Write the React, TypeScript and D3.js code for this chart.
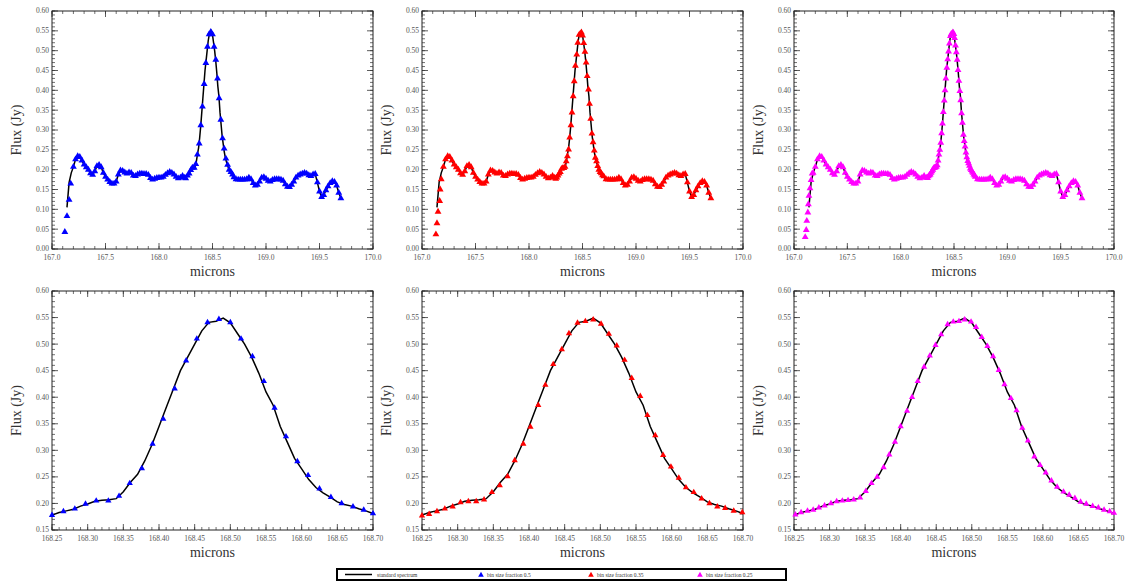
import React from "react";
import * as d3 from "d3";

// ---------- tick values ----------
const overviewXTicks = [167.0, 167.5, 168.0, 168.5, 169.0, 169.5, 170.0];
const overviewYTicks = [0, 0.05, 0.1, 0.15, 0.2, 0.25, 0.3, 0.35, 0.4, 0.45, 0.5, 0.55, 0.6];
const zoomXTicks = [168.25, 168.3, 168.35, 168.4, 168.45, 168.5, 168.55, 168.6, 168.65, 168.7];
const zoomYTicks = [0.15, 0.2, 0.25, 0.3, 0.35, 0.4, 0.45, 0.5, 0.55, 0.6];

// ---------- standard spectrum (microns, Jy) ----------
const spectrum: [number, number][] = [
  [167.14, 0.105], [167.16, 0.168], [167.18, 0.192], [167.2, 0.207], [167.22, 0.226],
  [167.24, 0.234], [167.26, 0.232], [167.28, 0.223], [167.3, 0.213], [167.32, 0.206],
  [167.34, 0.2], [167.36, 0.191], [167.38, 0.187], [167.4, 0.196], [167.42, 0.209],
  [167.44, 0.212], [167.46, 0.206], [167.48, 0.192], [167.5, 0.182], [167.52, 0.175],
  [167.54, 0.169], [167.56, 0.165], [167.58, 0.165], [167.6, 0.17], [167.62, 0.188],
  [167.64, 0.198], [167.66, 0.197], [167.68, 0.193], [167.7, 0.19], [167.72, 0.193],
  [167.74, 0.192], [167.76, 0.185], [167.78, 0.184], [167.8, 0.188], [167.82, 0.19],
  [167.84, 0.19], [167.86, 0.189], [167.88, 0.189], [167.9, 0.187], [167.92, 0.179],
  [167.94, 0.175], [167.96, 0.177], [167.98, 0.179], [168.0, 0.18], [168.02, 0.18],
  [168.04, 0.182], [168.06, 0.187], [168.08, 0.191], [168.1, 0.194], [168.12, 0.192],
  [168.14, 0.188], [168.16, 0.182], [168.18, 0.178], [168.2, 0.18], [168.22, 0.184],
  [168.24, 0.18],
  [168.25, 0.178], [168.26, 0.183], [168.27, 0.186], [168.28, 0.189], [168.29, 0.195],
  [168.3, 0.199], [168.31, 0.204], [168.32, 0.206], [168.33, 0.207], [168.34, 0.209],
  [168.35, 0.222], [168.36, 0.24], [168.37, 0.255], [168.38, 0.28], [168.39, 0.31],
  [168.4, 0.345], [168.41, 0.38], [168.42, 0.415], [168.43, 0.45], [168.44, 0.475],
  [168.45, 0.5], [168.46, 0.525], [168.47, 0.541], [168.48, 0.543], [168.49, 0.549],
  [168.5, 0.54], [168.51, 0.52], [168.52, 0.5], [168.53, 0.475], [168.54, 0.445],
  [168.55, 0.41], [168.56, 0.385], [168.57, 0.345], [168.58, 0.315], [168.59, 0.285],
  [168.6, 0.265], [168.61, 0.245], [168.62, 0.23], [168.63, 0.22], [168.64, 0.212],
  [168.65, 0.203], [168.66, 0.198], [168.67, 0.195], [168.68, 0.19], [168.69, 0.186],
  [168.7, 0.181],
  [168.72, 0.176], [168.74, 0.175], [168.76, 0.175], [168.78, 0.175], [168.8, 0.175],
  [168.82, 0.176], [168.84, 0.18], [168.86, 0.176], [168.88, 0.166], [168.9, 0.16],
  [168.92, 0.162], [168.94, 0.17], [168.96, 0.18], [168.98, 0.181], [169.0, 0.177],
  [169.02, 0.172], [169.04, 0.17], [169.06, 0.174], [169.08, 0.176], [169.1, 0.176],
  [169.12, 0.176], [169.14, 0.175], [169.16, 0.172], [169.18, 0.163], [169.2, 0.157],
  [169.22, 0.156], [169.24, 0.162], [169.26, 0.17], [169.28, 0.18], [169.3, 0.185],
  [169.32, 0.188], [169.34, 0.19], [169.36, 0.192], [169.38, 0.19], [169.4, 0.186],
  [169.42, 0.184], [169.44, 0.188], [169.46, 0.189], [169.48, 0.168], [169.5, 0.145],
  [169.52, 0.131], [169.54, 0.136], [169.56, 0.148], [169.58, 0.158], [169.6, 0.166],
  [169.62, 0.171], [169.64, 0.169], [169.66, 0.16], [169.68, 0.142], [169.7, 0.128],
];

// ---------- binned spectra: short-wavelength edge ----------
const blueEdge: [number, number][] = [
  [167.12, 0.043], [167.14, 0.083], [167.16, 0.124], [167.175, 0.165],
];
const redEdge: [number, number][] = [
  [167.13, 0.037], [167.14, 0.065], [167.15, 0.094], [167.165, 0.121], [167.17, 0.15], [167.18, 0.176],
];
const magentaEdge: [number, number][] = [
  [167.105, 0.03], [167.115, 0.048], [167.12, 0.071], [167.13, 0.092], [167.135, 0.113],
  [167.14, 0.134], [167.15, 0.153], [167.16, 0.174], [167.17, 0.19],
];

// ---------- binned spectra around the line (168.25 - 168.70) ----------
const blueLine: [number, number][] = [
  [168.25, 0.178], [168.266, 0.185], [168.282, 0.19], [168.297, 0.199], [168.312, 0.205],
  [168.329, 0.205], [168.344, 0.214], [168.359, 0.238], [168.376, 0.266], [168.391, 0.312],
  [168.406, 0.359], [168.422, 0.416], [168.438, 0.469], [168.453, 0.51], [168.468, 0.541],
  [168.484, 0.547], [168.5, 0.541], [168.515, 0.51], [168.531, 0.477], [168.547, 0.43],
  [168.562, 0.38], [168.578, 0.326], [168.594, 0.279], [168.609, 0.253], [168.625, 0.228],
  [168.641, 0.212], [168.656, 0.2], [168.672, 0.194], [168.687, 0.188], [168.7, 0.181],
];
const redLine: [number, number][] = [
  [168.25, 0.177], [168.26, 0.18], [168.271, 0.185], [168.282, 0.19], [168.293, 0.194],
  [168.304, 0.202], [168.315, 0.204], [168.326, 0.204], [168.337, 0.207], [168.348, 0.221],
  [168.359, 0.234], [168.37, 0.251], [168.38, 0.281], [168.392, 0.312], [168.402, 0.344],
  [168.413, 0.385], [168.423, 0.423], [168.434, 0.462], [168.446, 0.49], [168.456, 0.52],
  [168.468, 0.54], [168.479, 0.543], [168.49, 0.546], [168.501, 0.538], [168.512, 0.519],
  [168.523, 0.497], [168.534, 0.47], [168.544, 0.436], [168.556, 0.402], [168.566, 0.366],
  [168.577, 0.328], [168.588, 0.291], [168.599, 0.269], [168.61, 0.248], [168.62, 0.23],
  [168.631, 0.221], [168.642, 0.209], [168.653, 0.2], [168.664, 0.194], [168.675, 0.191],
  [168.687, 0.186], [168.699, 0.183],
];
const magentaLine: [number, number][] = [
  [168.252, 0.179], [168.26, 0.183], [168.269, 0.186], [168.277, 0.188], [168.285, 0.192],
  [168.293, 0.196], [168.302, 0.2], [168.31, 0.204], [168.318, 0.205], [168.326, 0.206],
  [168.334, 0.207], [168.343, 0.211], [168.351, 0.223], [168.359, 0.238], [168.367, 0.25],
  [168.376, 0.268], [168.384, 0.292], [168.392, 0.316], [168.4, 0.345], [168.409, 0.374],
  [168.416, 0.4], [168.424, 0.43], [168.433, 0.457], [168.441, 0.478], [168.449, 0.498],
  [168.457, 0.518], [168.466, 0.537], [168.474, 0.542], [168.482, 0.543], [168.49, 0.546],
  [168.499, 0.542], [168.506, 0.532], [168.514, 0.513], [168.522, 0.496], [168.53, 0.477],
  [168.538, 0.451], [168.546, 0.424], [168.555, 0.398], [168.563, 0.375], [168.571, 0.342],
  [168.579, 0.318], [168.588, 0.288], [168.596, 0.272], [168.604, 0.258], [168.612, 0.243],
  [168.62, 0.231], [168.629, 0.222], [168.637, 0.216], [168.645, 0.21], [168.653, 0.203],
  [168.661, 0.199], [168.67, 0.195], [168.678, 0.192], [168.686, 0.188], [168.694, 0.185],
  [168.7, 0.182],
];

const legendLabels = ["standard spectrum", "bin size fraction 0.5", "bin size fraction 0.35", "bin size fraction 0.25"];
const seriesColors = ["#0000ff", "#ff0000", "#ff00ff"];

const FONT = "'Liberation Serif', 'DejaVu Serif', serif";

function fullSeries(edge: [number, number][], line: [number, number][]) {
  const lastEdge = edge[edge.length - 1][0];
  const cont = spectrum.filter(([w]) => w > lastEdge + 0.005 && (w < 168.245 || w > 168.705));
  return [...edge, ...cont, ...line].sort((a, b) => a[0] - b[0]);
}

const seriesSets = [
  { top: fullSeries(blueEdge, blueLine), zoom: blueLine },
  { top: fullSeries(redEdge, redLine), zoom: redLine },
  { top: fullSeries(magentaEdge, magentaLine), zoom: magentaLine },
];

function minorTicks(min: number, max: number, step: number) {
  const a = Math.round(min / step);
  const b = Math.round(max / step);
  return d3.range(a, b + 1).map((i) => i * step);
}

type PanelProps = {
  x0: number; x1: number; y0: number; y1: number;
  xDomain: [number, number]; yDomain: [number, number];
  xTicks: number[]; yTicks: number[];
  xMinor: number; yMinor: number;
  xFmt: (n: number) => string;
  line: [number, number][];
  points: [number, number][];
  color: string;
  markerSize: number;
};

function Panel(p: PanelProps) {
  const x = d3.scaleLinear().domain(p.xDomain).range([p.x0, p.x1]);
  const y = d3.scaleLinear().domain(p.yDomain).range([p.y1, p.y0]);
  const lineGen = d3.line<[number, number]>().x((d) => x(d[0])).y((d) => y(d[1]));
  const sym = d3.symbol().type(d3.symbolTriangle).size(p.markerSize)();
  const yFmt = d3.format(".2f");
  const tickColor = "#333";
  const xm = minorTicks(p.xDomain[0], p.xDomain[1], p.xMinor);
  const ym = minorTicks(p.yDomain[0], p.yDomain[1], p.yMinor);
  const midX = (p.x0 + p.x1) / 2;
  const midY = (p.y0 + p.y1) / 2;
  return (
    <g>
      {xm.map((v, i) => (
        <g key={"xm" + i} stroke={tickColor} strokeWidth={0.7}>
          <line x1={x(v)} x2={x(v)} y1={p.y1} y2={p.y1 - 3} />
          <line x1={x(v)} x2={x(v)} y1={p.y0} y2={p.y0 + 3} />
        </g>
      ))}
      {ym.map((v, i) => (
        <g key={"ym" + i} stroke={tickColor} strokeWidth={0.7}>
          <line x1={p.x0} x2={p.x0 + 3} y1={y(v)} y2={y(v)} />
          <line x1={p.x1} x2={p.x1 - 3} y1={y(v)} y2={y(v)} />
        </g>
      ))}
      {p.xTicks.map((v, i) => (
        <g key={"xM" + i}>
          <line x1={x(v)} x2={x(v)} y1={p.y1} y2={p.y1 - 6} stroke={tickColor} strokeWidth={0.8} />
          <line x1={x(v)} x2={x(v)} y1={p.y0} y2={p.y0 + 6} stroke={tickColor} strokeWidth={0.8} />
          <text x={x(v)} y={p.y1 + 11} fontSize={7.5} fontFamily={FONT} fill="#555" textAnchor="middle">
            {p.xFmt(v)}
          </text>
        </g>
      ))}
      {p.yTicks.map((v, i) => (
        <g key={"yM" + i}>
          <line x1={p.x0} x2={p.x0 + 6} y1={y(v)} y2={y(v)} stroke={tickColor} strokeWidth={0.8} />
          <line x1={p.x1} x2={p.x1 - 6} y1={y(v)} y2={y(v)} stroke={tickColor} strokeWidth={0.8} />
          <text x={p.x0 - 3} y={y(v)} dy="0.32em" fontSize={7.5} fontFamily={FONT} fill="#555" textAnchor="end">
            {yFmt(v)}
          </text>
        </g>
      ))}
      <rect x={p.x0} y={p.y0} width={p.x1 - p.x0} height={p.y1 - p.y0} fill="none" stroke="#222" strokeWidth={1} />
      <path d={lineGen(p.line) || ""} fill="none" stroke="#000" strokeWidth={1.5} />
      {p.points.map((d, i) => (
        <path key={"pt" + i} d={sym || ""} transform={`translate(${x(d[0])},${y(d[1])})`} fill={p.color} />
      ))}
      <text x={midX} y={p.y1 + 27} fontSize={14} fontFamily={FONT} fill="#333" textAnchor="middle">
        microns
      </text>
      <text
        transform={`translate(${p.x0 - 31},${midY}) rotate(-90)`}
        fontSize={14}
        fontFamily={FONT}
        fill="#333"
        textAnchor="middle"
      >
        Flux (Jy)
      </text>
    </g>
  );
}

const columns = [
  { x0: 52, x1: 373 },
  { x0: 422, x1: 743 },
  { x0: 794, x1: 1114 },
];

export default function App() {
  const fmt1 = d3.format(".1f");
  const fmt2 = d3.format(".2f");
  const zoomLine = spectrum.filter(([w]) => w >= 168.249 && w <= 168.701);
  const tri = d3.symbol().type(d3.symbolTriangle).size(14)();
  const legendX = [377, 487, 597, 706];
  return (
    <svg width={1138} height={583} style={{ position: "absolute", left: 0, top: 0, background: "#fff" }}>
      <rect x={0} y={0} width={1138} height={583} fill="#fff" />
      {columns.map((c, i) => (
        <g key={"col" + i}>
          <Panel
            x0={c.x0} x1={c.x1} y0={11} y1={249}
            xDomain={[167, 170]} yDomain={[0, 0.6]}
            xTicks={overviewXTicks} yTicks={overviewYTicks}
            xMinor={0.1} yMinor={0.01}
            xFmt={fmt1}
            line={spectrum}
            points={seriesSets[i].top}
            color={seriesColors[i]}
            markerSize={20}
          />
          <Panel
            x0={c.x0} x1={c.x1} y0={291} y1={530}
            xDomain={[168.25, 168.7]} yDomain={[0.15, 0.6]}
            xTicks={zoomXTicks} yTicks={zoomYTicks}
            xMinor={0.01} yMinor={0.01}
            xFmt={fmt2}
            line={zoomLine}
            points={seriesSets[i].zoom}
            color={seriesColors[i]}
            markerSize={17}
          />
        </g>
      ))}
      <rect x={337} y={569} width={449} height={11} fill="#fff" stroke="#000" strokeWidth={2} />
      <line x1={345} x2={372} y1={574.5} y2={574.5} stroke="#000" strokeWidth={1.5} />
      {legendLabels.map((t, i) => (
        <text key={"lg" + i} x={legendX[i]} y={576.5} fontSize={5.5} fontFamily={FONT} fill="#333">
          {t}
        </text>
      ))}
      {seriesColors.map((c, i) => (
        <path key={"lm" + i} d={tri || ""} transform={`translate(${legendX[i + 1] - 6},${575})`} fill={c} />
      ))}
    </svg>
  );
}
